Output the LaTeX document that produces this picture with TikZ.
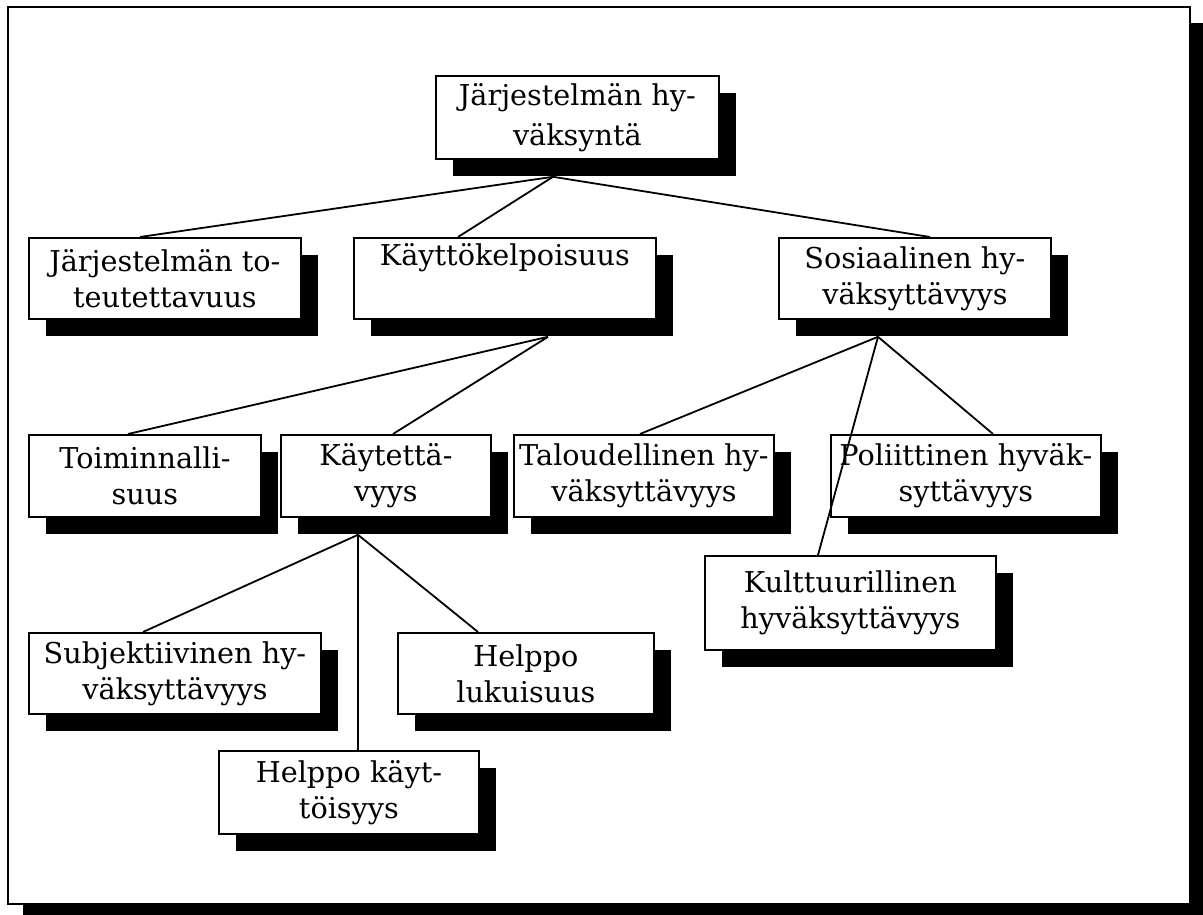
\documentclass[tikz,border=0pt]{standalone}
\usepackage{fontspec}
\setmainfont{DejaVu Serif}
\usetikzlibrary{shadows,calc}
\begin{document}
\begin{tikzpicture}[x=1pt,y=-1pt,
  box/.style={draw=black, line width=1.8pt, fill=white, inner sep=0pt,
    anchor=north west, align=center,
    font=\fontsize{28.7}{36}\selectfont,
    drop shadow={shadow xshift=17pt, shadow yshift=-17pt, fill=black, opacity=1}},
  conn/.style={draw=black, line width=1.8pt}]
\useasboundingbox[fill=white] (0,0) rectangle (1203,915);
% outer frame with shadow
\fill[black] (23,23) rectangle (1203,915);
\draw[line width=2pt, fill=white] (8,7) rectangle (1190,904);
% nodes
\node[box, minimum width=283pt, minimum height=83pt, font=\fontsize{28.7}{40}\selectfont] (top) at (435,75) {Järjestelmän hy-\\väksyntä};
\node[box, minimum width=272pt, minimum height=81pt] (jt) at (28,237) {Järjestelmän to-\\teutettavuus};
\node[box, minimum width=302pt, minimum height=81pt] (kk) at (353,237) {Käyttökelpoisuus\\\strut};
\node[box, minimum width=272pt, minimum height=81pt] (sos) at (778,237) {Sosiaalinen hy-\\väksyttävyys};
\node[box, minimum width=232pt, minimum height=82pt] (toim) at (28,434) {Toiminnalli-\\suus};
\node[box, minimum width=210pt, minimum height=82pt] (kayt) at (280,434) {Käytettä-\\vyys};
\node[box, minimum width=260pt, minimum height=82pt] (tal) at (513,434) {Taloudellinen hy-\\väksyttävyys};
\node[box, minimum width=270pt, minimum height=82pt] (pol) at (830,434) {Poliittinen hyväk-\\syttävyys};
\node[box, minimum width=291pt, minimum height=94pt] (kult) at (704,555) {Kulttuurillinen\\hyväksyttävyys};
\node[box, minimum width=292pt, minimum height=81pt] (subj) at (28,632) {Subjektiivinen hy-\\väksyttävyys};
\node[box, minimum width=256pt, minimum height=81pt] (hlu) at (397,632) {Helppo\\lukuisuus};
\node[box, minimum width=260pt, minimum height=83pt] (hka) at (218,750) {Helppo käyt-\\töisyys};
% junction points below the shadows
\coordinate (jtop) at ($(top.south west)+(118,17)$);
\coordinate (jkk) at ($(kk.south west)+(195,17)$);
\coordinate (jkayt) at ($(kayt.south west)+(78,17)$);
\coordinate (jsos) at ($(sos.south west)+(100,17)$);
% connectors
\draw[conn] (jtop) -- ($(jt.north west)+(112,0)$);
\draw[conn] (jtop) -- ($(kk.north west)+(105,0)$);
\draw[conn] (jtop) -- ($(sos.north west)+(152,0)$);
\draw[conn] (jkk) -- ($(toim.north west)+(100,0)$);
\draw[conn] (jkk) -- ($(kayt.north west)+(113,0)$);
\draw[conn] (jkayt) -- ($(subj.north west)+(115,0)$);
\draw[conn] (jkayt) -- ($(hka.north west)+(140,0)$);
\draw[conn] (jkayt) -- ($(hlu.north west)+(81,0)$);
\draw[conn] (jsos) -- ($(tal.north west)+(127,0)$);
\draw[conn] (jsos) -- ($(kult.north west)+(114,0)$);
\draw[conn] (jsos) -- ($(pol.north west)+(163,0)$);
\end{tikzpicture}
\end{document}
